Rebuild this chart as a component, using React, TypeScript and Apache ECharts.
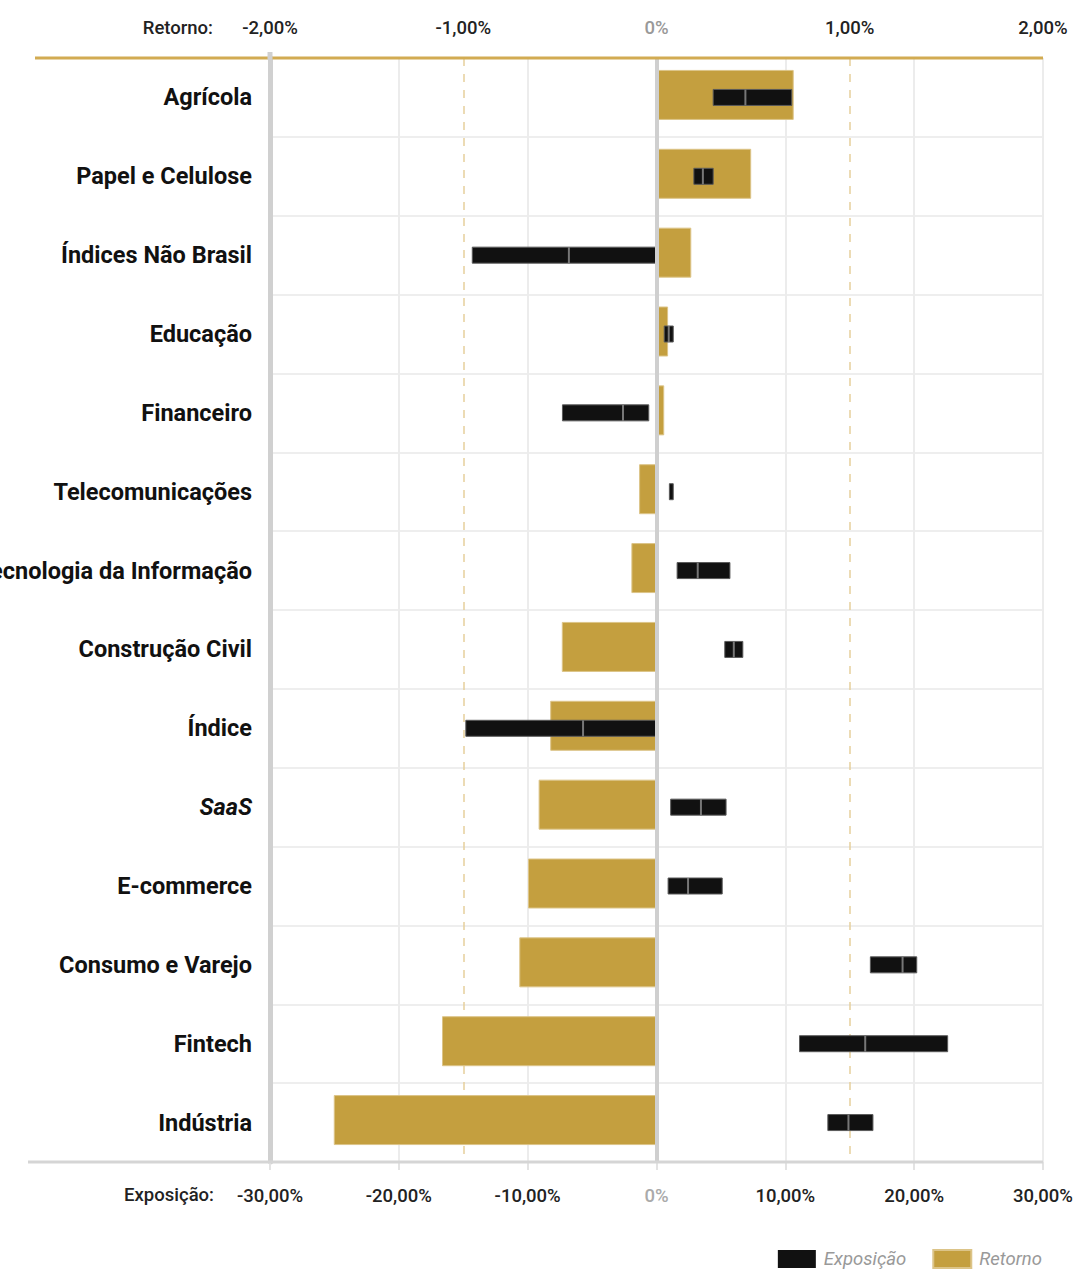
import React, { useEffect, useRef } from "react";
import * as echarts from "echarts";

const categories = [
  "Agrícola",
  "Papel e Celulose",
  "Índices Não Brasil",
  "Educação",
  "Financeiro",
  "Telecomunicações",
  "Tecnologia da Informação",
  "Construção Civil",
  "Índice",
  "SaaS",
  "E-commerce",
  "Consumo e Varejo",
  "Fintech",
  "Indústria",
];

// Retorno (%), top axis
const retorno = [0.71, 0.49, 0.18, 0.06, 0.04, -0.09, -0.13, -0.49, -0.55, -0.61, -0.665, -0.71, -1.11, -1.67];

// Exposição (%), bottom axis: range start, end and marker
const exposicaoInicio = [4.4, 2.9, -14.3, 0.6, -7.3, 1.0, 1.6, 5.3, -14.8, 1.1, 0.9, 16.6, 11.1, 13.3];
const exposicaoFim = [10.5, 4.4, 0, 1.3, -0.6, 1.3, 5.7, 6.7, 0, 5.4, 5.1, 20.2, 22.6, 16.8];
const exposicaoMarca = [6.9, 3.6, -6.8, 0.95, -2.6, null, 3.2, 6.0, -5.7, 3.45, 2.45, 19.1, 16.2, 14.9];

const retornoTicks = { min: -2, max: 2, interval: 1 };
const exposicaoTicks = { min: -30, max: 30, interval: 10 };

const FONT = "Roboto, 'Liberation Sans', sans-serif";
const GOLD = "#c49f3f";
const DASH_GOLD = "#e6cf9c";

const fmt = (v: number) => (v === 0 ? "0%" : v.toFixed(2).replace(".", ",") + "%");

export default function App() {
  const ref = useRef<HTMLDivElement>(null);

  useEffect(() => {
    document.body.style.margin = "0";
    if (!ref.current) return;
    const chart = echarts.init(ref.current, undefined, { renderer: "svg" });

    const expData = categories.map((_, i) => [
      i,
      exposicaoInicio[i],
      exposicaoFim[i],
      exposicaoMarca[i] === null ? NaN : exposicaoMarca[i],
    ]);

    chart.setOption({
      animation: false,
      textStyle: { fontFamily: FONT },
      grid: { left: 270, right: 33, top: 58, bottom: 109, containLabel: false, outerBoundsMode: "none" },
      legend: {
        data: ["Exposição", "Retorno"],
        right: 29,
        bottom: -3,
        itemWidth: 38,
        itemHeight: 18,
        itemGap: 26,
        icon: "rect",
        textStyle: { fontFamily: FONT, fontSize: 18.5, fontStyle: "italic", color: "#999", padding: [0, 0, 0, 3] },
      },
      xAxis: [
        {
          type: "value",
          position: "bottom",
          min: exposicaoTicks.min,
          max: exposicaoTicks.max,
          interval: exposicaoTicks.interval,
          axisLine: { show: false },
          axisTick: { show: true, length: 8, lineStyle: { color: "#e3e3e3", width: 2 } },
          splitLine: { show: true, lineStyle: { color: "#ececec", width: 2 } },
          axisLabel: {
            formatter: fmt,
            fontFamily: FONT,
            fontSize: 18.5,
            fontWeight: 500,
            margin: 24,
            color: (v: any) => (Number(v) === 0 ? "#aaa" : "#222"),
          },
        },
        {
          type: "value",
          position: "top",
          min: retornoTicks.min,
          max: retornoTicks.max,
          interval: retornoTicks.interval,
          axisLine: { show: false },
          axisTick: { show: false },
          splitLine: {
            show: true,
            lineStyle: {
              color: ["rgba(0,0,0,0)", DASH_GOLD, "rgba(0,0,0,0)", DASH_GOLD, "rgba(0,0,0,0)"],
              width: 1.5,
              type: [8, 8],
            },
          },
          axisLabel: {
            formatter: fmt,
            fontFamily: FONT,
            fontSize: 18.5,
            fontWeight: 500,
            margin: 21,
            color: (v: any) => (Number(v) === 0 ? "#999" : "#222"),
          },
        },
      ],
      yAxis: [
        {
          type: "category",
          data: categories,
          inverse: true,
          axisLine: { show: true, onZero: false, lineStyle: { color: "#d0d0d0", width: 5 } },
          axisTick: { show: false },
          splitLine: { show: true, lineStyle: { color: "#eeeeee", width: 2 } },
          axisLabel: {
            fontFamily: FONT,
            fontSize: 23.5,
            fontWeight: "bold",
            color: "#111",
            margin: 18,
            formatter: (v: string) => (v === "SaaS" ? "{it|SaaS}" : v),
            rich: {
              it: { fontFamily: FONT, fontSize: 23.5, fontWeight: "bold", fontStyle: "italic", color: "#111" },
            },
          },
        },
      ],
      graphic: [
        { type: "line", shape: { x1: 35, y1: 58, x2: 1043, y2: 58 }, style: { stroke: "#d2ab52", lineWidth: 3 }, z: 10 },
        { type: "line", shape: { x1: 28, y1: 1162, x2: 1043, y2: 1162 }, style: { stroke: "#d5d5d5", lineWidth: 3 }, z: 10 },
        { type: "line", shape: { x1: 270, y1: 52, x2: 270, y2: 60 }, style: { stroke: "#d0d0d0", lineWidth: 5 }, z: 11 },
        {
          type: "text",
          x: 213,
          y: 28,
          style: { text: "Retorno:", fontFamily: FONT, fontSize: 18.5, fontWeight: 500, fill: "#222", align: "right", verticalAlign: "middle" },
        },
        {
          type: "text",
          x: 214,
          y: 1195,
          style: { text: "Exposição:", fontFamily: FONT, fontSize: 18.5, fontWeight: 500, fill: "#222", align: "right", verticalAlign: "middle" },
        },
      ],
      series: [
        {
          name: "Retorno",
          type: "bar",
          xAxisIndex: 1,
          yAxisIndex: 0,
          data: retorno,
          barWidth: 50,
          itemStyle: { color: GOLD, borderColor: "#dcc488", borderWidth: 1 },
          z: 2,
        },
        {
          name: "Exposição",
          type: "custom",
          xAxisIndex: 0,
          yAxisIndex: 0,
          data: expData,
          encode: { x: [1, 2, 3], y: 0 },
          itemStyle: { color: "#111" },
          z: 3,
          renderItem: (params: any, api: any) => {
            const idx = api.value(0);
            const s = api.coord([api.value(1), idx]);
            const e = api.coord([api.value(2), idx]);
            const h = 16;
            const children: any[] = [
              {
                type: "rect",
                shape: { x: s[0], y: s[1] - h / 2, width: e[0] - s[0], height: h },
                style: { fill: "#111", stroke: "#5a5a5a", lineWidth: 1 },
              },
            ];
            const mv = api.value(3);
            if (!isNaN(mv)) {
              const m = api.coord([mv, idx]);
              children.push({
                type: "rect",
                shape: { x: m[0] - 1, y: s[1] - h / 2, width: 2, height: h },
                style: { fill: "#777" },
              });
            }
            return { type: "group", children };
          },
        },
        {
          name: "zero",
          type: "bar",
          xAxisIndex: 1,
          yAxisIndex: 0,
          data: [],
          z: 5,
          markLine: {
            silent: true,
            symbol: "none",
            label: { show: false },
            lineStyle: { color: "#cfcfcf", width: 4, type: "solid" },
            data: [{ xAxis: 0 }],
          },
        },
      ],
    });

    return () => chart.dispose();
  }, []);

  return <div ref={ref} style={{ width: 1076, height: 1271 }} />;
}
